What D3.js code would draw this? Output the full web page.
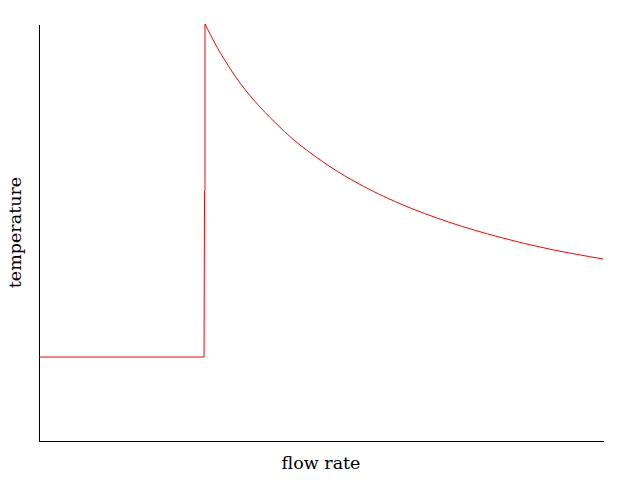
<!DOCTYPE html>
<html>
<head>
<meta charset="utf-8">
<script src="https://cdn.jsdelivr.net/npm/d3@7"></script>
<style>
html,body{margin:0;padding:0;background:#fff;}
svg{display:block;}
</style>
</head>
<body>
<svg id="chart" width="640" height="480"></svg>
<script>
// Data (arbitrary units)
const stepFlow = [0, 2.926, 2.935, 2.943, 2.943];
const stepTemp = [2.014, 2.014, 6.0, 6.0, 10.0];
const curveFlow = [2.943, 3.121, 3.298, 3.564, 3.918, 4.273, 4.628, 5.160, 5.691, 6.401, 7.287, 8.174, 9.060, 10.0];
const curveTemp = [10.0, 9.532, 9.125, 8.585, 8.010, 7.523, 7.098, 6.580, 6.153, 5.691, 5.240, 4.885, 4.600, 4.365];
const xLabel = "flow rate";
const yLabel = "temperature";

const svg = d3.select("#chart");
const margin = {left: 39, right: 37, top: 24, bottom: 39};
const W = 640, H = 480;
const x = d3.scaleLinear().domain([0, 10]).range([margin.left, W - margin.right]);
const y = d3.scaleLinear().domain([0, 10]).range([H - margin.bottom, margin.top]);

// axes (no ticks)
svg.append("g").attr("transform", `translate(0,${H - margin.bottom})`)
  .call(d3.axisBottom(x).ticks(0).tickSize(0).tickSizeOuter(0))
  .call(g => g.selectAll("text").remove())
  .select(".domain").attr("stroke", "#000").attr("shape-rendering", "crispEdges");
svg.append("g").attr("transform", `translate(${margin.left},0)`)
  .call(d3.axisLeft(y).ticks(0).tickSize(0).tickSizeOuter(0))
  .call(g => g.selectAll("text").remove())
  .select(".domain").attr("stroke", "#000").attr("shape-rendering", "crispEdges");

const stepData = stepFlow.map((f, i) => [f, stepTemp[i]]);
const curveData = curveFlow.map((f, i) => [f, curveTemp[i]]);

svg.append("path").datum(stepData)
  .attr("fill", "none").attr("stroke", "red").attr("stroke-width", 1)
  .attr("d", d3.line().x(d => x(d[0])).y(d => y(d[1])));
svg.append("path").datum(curveData)
  .attr("fill", "none").attr("stroke", "red").attr("stroke-width", 1)
  .attr("d", d3.line().curve(d3.curveNatural).x(d => x(d[0])).y(d => y(d[1])));

svg.append("text").attr("x", (margin.left + W - margin.right) / 2).attr("y", 469)
  .attr("text-anchor", "middle").attr("font-family", "DejaVu Serif").attr("font-size", 17.5)
  .text(xLabel);
svg.append("text").attr("transform", `translate(21,${(margin.top + H - margin.bottom) / 2}) rotate(-90)`)
  .attr("text-anchor", "middle").attr("font-family", "DejaVu Serif").attr("font-size", 17.5)
  .text(yLabel);
</script>
</body>
</html>
